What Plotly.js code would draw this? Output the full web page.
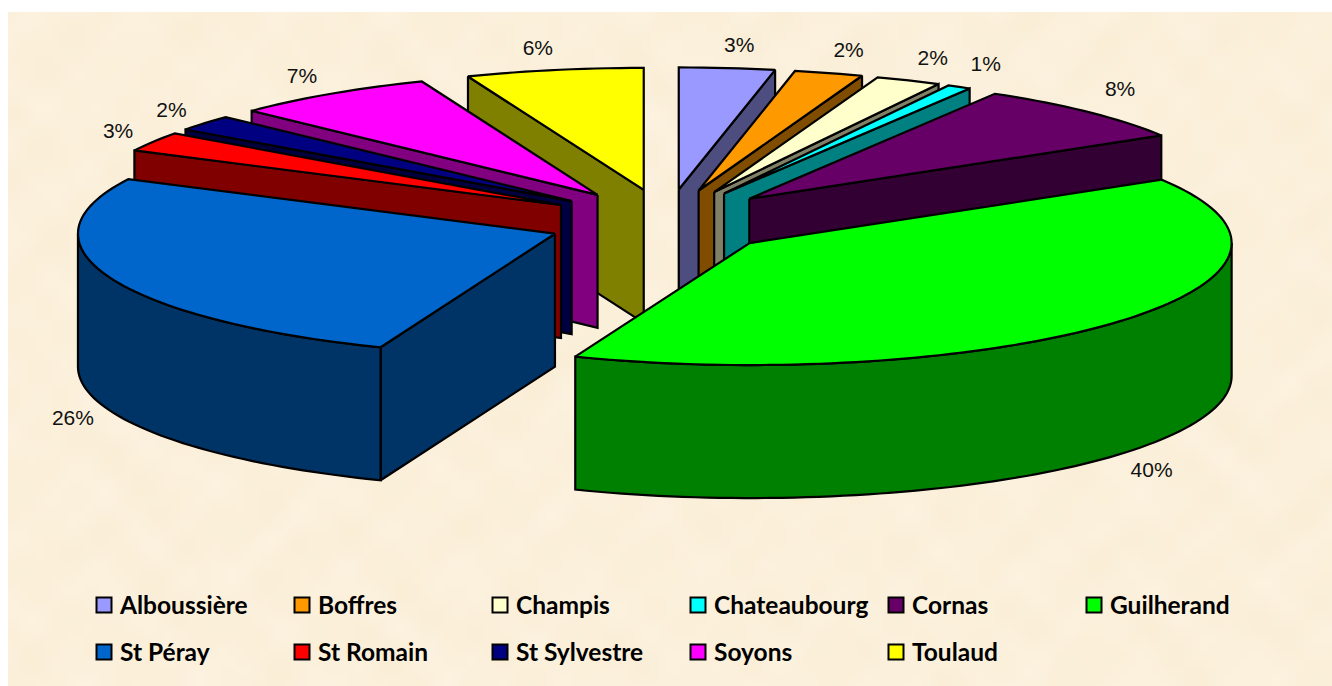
<!DOCTYPE html>
<html>
<head>
<meta charset="utf-8">
<script src="https://cdn.plot.ly/plotly-3.0.1.min.js"></script>
<style>html,body{margin:0;padding:0;background:#fff}#chart{width:1332px;height:686px}</style>
</head>
<body>
<div id="chart"></div>
<script>
// ---- data (share of the total, %) ----
const categories = ["Alboussière","Boffres","Champis","Chateaubourg","Cornas","Guilherand","St Péray","St Romain","St Sylvestre","Soyons","Toulaud"];
const values = [3.2,2.3,2.2,0.8,7.8,39.6,26.4,2.6,2.1,6.9,6.0];
const topColors = ["#9999FF","#FF9900","#FFFFCC","#00FFFF","#660066","#00FF00","#0066CC","#FF0000","#000080","#FF00FF","#FFFF00"];
const sideColors = ["#4D4D80","#804D00","#808066","#008080","#330033","#008000","#003366","#800000","#000040","#800080","#808000"];

// ---- pie projection (slightly asymmetric, as the reference's perspective is) ----
const geom = {cx:667, cy:222, rxR:482, rxL:477, ry:122, depth:133, pullY:32.7, startDeg:-90, padX:38,
  pullFrontR:108, pullBackR:117, pullFrontL:120, pullBackL:124};
const rad = d => d*Math.PI/180;
const total = values.reduce((a,b)=>a+b,0);

let cursor = geom.startDeg;
const slices = values.map((v,i)=>{
  const s = cursor, e = cursor + v/total*360; cursor = e;
  const m = rad((s+e)/2), c = Math.cos(m), back = Math.sin(m)<0;
  const pull = c>0 ? (back?geom.pullBackR:geom.pullFrontR) : (back?geom.pullBackL:geom.pullFrontL);
  return {i, v, s, e, m, ax: geom.cx+pull*c, ay: geom.cy+geom.pullY*Math.sin(m)};
});
const rim = (sl,deg,dz=0)=>{
  const c=Math.cos(rad(deg));
  return [sl.ax+(c>0?geom.rxR:geom.rxL)*c, sl.ay+geom.ry*Math.sin(rad(deg))+dz];
};
function arc(sl,a,b,dz=0){
  const n=Math.max(2,Math.ceil(Math.abs(b-a)/1.5)), pts=[];
  for(let k=0;k<=n;k++) pts.push(rim(sl,a+(b-a)*k/n,dz));
  return pts;
}
function poly(pts,fill){
  return {type:'scatter',mode:'lines',x:pts.map(p=>p[0]),y:pts.map(p=>p[1]),fill:'toself',fillcolor:fill,
    line:{color:'#000',width:2.2,simplify:false},hoverinfo:'skip',showlegend:false};
}
const traces=[];
[...slices].sort((a,b)=>a.ay-b.ay).forEach(sl=>{
  const A=[sl.ax,sl.ay], B=[sl.ax,sl.ay+geom.depth], side=sideColors[sl.i];
  const wall=d=>{const p=rim(sl,d),q=rim(sl,d,geom.depth);traces.push(poly([A,p,q,B,A],side));};
  if(Math.cos(rad(sl.s))<0) wall(sl.s);
  if(Math.cos(rad(sl.e))>0) wall(sl.e);
  // outer wall: only the part of the rim facing the viewer
  for(const [lo,hi] of [[0,180],[360,540]]){
    const a=Math.max(sl.s,lo), b=Math.min(sl.e,hi);
    if(b>a){const up=arc(sl,a,b), dn=arc(sl,b,a,geom.depth);traces.push(poly([...up,...dn,up[0]],side));}
  }
  traces.push(poly([A,...arc(sl,sl.s,sl.e),A],topColors[sl.i]));
});

// percent labels, placed just outside each slice's rim
const labelPos = slices.map(sl=>{
  const c=Math.cos(sl.m), s=Math.sin(sl.m);
  const base=rim(sl,sl.m*180/Math.PI, s>0?geom.depth:0);
  const dy = s<0 ? -21+(c<0?16*c*c:0) : 27*s;
  return [base[0]+geom.padX*Math.sign(c)*Math.sqrt(Math.abs(c)), base[1]+dy];
});
traces.push({type:'scatter',mode:'text',x:labelPos.map(p=>p[0]),y:labelPos.map(p=>p[1]),
  text:values.map(v=>Math.round(v)+'%'),textposition:'middle center',
  textfont:{family:'Liberation Sans, Arial, sans-serif',size:21,color:'#111'},hoverinfo:'skip',showlegend:false});

// legend entries
categories.forEach((c,i)=>{
  traces.push({type:'scatter',mode:'markers',x:[null],y:[null],name:c,
    marker:{symbol:'square',size:15,color:topColors[i],line:{color:'#000',width:2}},
    legend:i<6?'legend':'legend2',hoverinfo:'skip'});
});

// soft parchment mottling for the chart background
function parchment(){
  const cv=document.createElement('canvas'); cv.width=166; cv.height=84;
  const g=cv.getContext('2d');
  for(let y=0;y<cv.height;y++)for(let x=0;x<cv.width;x++){
    const t=Math.sin(x*.43+Math.sin(y*.29)*3)+Math.sin(y*.51+Math.sin(x*.19)*3)+Math.sin(x*.83-y*.67)*.6+Math.sin(x*.97+y*.89)*.6;
    const d=t*.7;
    g.fillStyle=`rgb(${Math.round(251+d*.5)},${Math.round(240+d)},${Math.round(219+d*2)})`;
    g.fillRect(x,y,1,1);
  }
  return cv.toDataURL('image/png');
}

const legendBase={orientation:'h',bgcolor:'rgba(0,0,0,0)',borderwidth:0,itemsizing:'trace',itemclick:false,itemdoubleclick:false,
  entrywidth:153,entrywidthmode:'pixels',traceorder:'normal',xanchor:'left',yanchor:'middle',
  font:{family:'Lato, sans-serif',size:24.5,weight:700,color:'#000'}};
const PW=1324, PH=674;
const layout={
  width:1332,height:686,autosize:false,
  margin:{l:8,r:0,t:12,b:0,pad:0},
  paper_bgcolor:'#fff',plot_bgcolor:'#FBF0DB',
  xaxis:{range:[8,1332],visible:false,fixedrange:true},
  yaxis:{range:[686,12],visible:false,fixedrange:true},
  legend:{...legendBase,x:(80-8)/PW,y:1-(605-12)/PH},
  legend2:{...legendBase,x:(80-8)/PW,y:1-(652-12)/PH},
  images:[{source:parchment(),xref:'paper',yref:'paper',x:0,y:1,sizex:1,sizey:1,sizing:'stretch',layer:'below'}],
  showlegend:true
};
Plotly.newPlot('chart',traces,layout,{displayModeBar:false}).then(()=>{
  document.querySelectorAll('.legendsymbols').forEach(g=>g.setAttribute('transform','translate(4,0)'));
});
</script>
</body>
</html>
